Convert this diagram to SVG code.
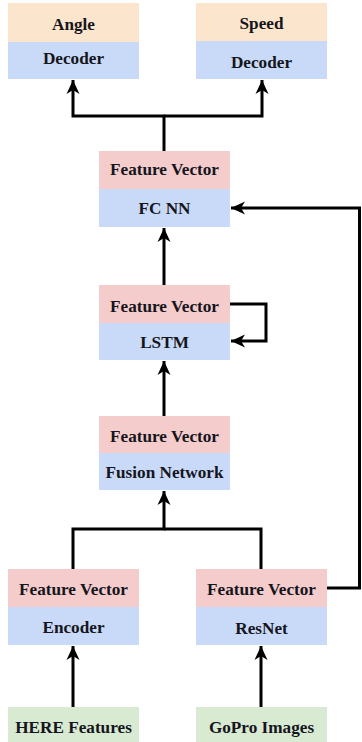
<svg xmlns="http://www.w3.org/2000/svg" width="362" height="742" viewBox="0 0 362 742">
<style>
.t{font-family:'Liberation Serif','DejaVu Serif',serif;font-weight:bold;font-size:17.2px;fill:#15151c;text-anchor:middle}
.pk{fill:#f4cccc}.bl{fill:#c9daf8}.pe{fill:#fce5cd}.gr{fill:#d9ead3}
.c{fill:none;stroke:#000;stroke-width:3;stroke-linejoin:miter}
</style>
<defs>
<marker id="ah" markerUnits="userSpaceOnUse" markerWidth="20" markerHeight="16" refX="14" refY="7" orient="auto" viewBox="0 0 20 16">
<path d="M14,7 L0,0.5 L4,7 L0,13.5 Z" fill="#000"/>
</marker>
</defs>
<rect width="362" height="742" fill="#fff"/>
<g id="angle">
<rect class="pe" x="8" y="3" width="131" height="39"/>
<rect class="bl" x="8" y="42" width="131" height="37"/>
<text class="t" x="73.5" y="30">Angle</text>
<text class="t" x="73.5" y="64">Decoder</text>
</g>
<g id="speed">
<rect class="pe" x="196" y="3" width="131" height="38"/>
<rect class="bl" x="196" y="41" width="131" height="38"/>
<text class="t" x="261.5" y="29">Speed</text>
<text class="t" x="261.5" y="68">Decoder</text>
</g>
<g id="fcnn">
<rect class="pk" x="99" y="151" width="131" height="38"/>
<rect class="bl" x="99" y="189" width="131" height="38"/>
<text class="t" x="164.5" y="175">Feature Vector</text>
<text class="t" x="164.5" y="214">FC NN</text>
</g>
<g id="lstm">
<rect class="pk" x="99" y="285" width="131" height="38"/>
<rect class="bl" x="99" y="323" width="131" height="37"/>
<text class="t" x="164.5" y="311.5">Feature Vector</text>
<text class="t" x="164.5" y="348">LSTM</text>
</g>
<g id="fusion">
<rect class="pk" x="99" y="416" width="131" height="37"/>
<rect class="bl" x="99" y="453" width="131" height="37"/>
<text class="t" x="164.5" y="442">Feature Vector</text>
<text class="t" x="164.5" y="477.5">Fusion Network</text>
</g>
<g id="encoder">
<rect class="pk" x="8" y="569" width="131" height="38"/>
<rect class="bl" x="8" y="607" width="131" height="38"/>
<text class="t" x="73.5" y="595">Feature Vector</text>
<text class="t" x="73.5" y="632.5">Encoder</text>
</g>
<g id="resnet">
<rect class="pk" x="196" y="569" width="131" height="38"/>
<rect class="bl" x="196" y="607" width="131" height="38"/>
<text class="t" x="261.5" y="595">Feature Vector</text>
<text class="t" x="261.5" y="634">ResNet</text>
</g>
<g id="here">
<rect class="gr" x="8" y="707" width="131" height="35"/>
<text class="t" x="73.5" y="732.5">HERE Features</text>
</g>
<g id="gopro">
<rect class="gr" x="196" y="707" width="131" height="35"/>
<text class="t" x="261.5" y="732.5">GoPro Images</text>
</g>
<g id="connectors">
<path class="c" d="M164,151 V116 H73 V80" marker-end="url(#ah)"/>
<path class="c" d="M164,116 H262 V80" marker-end="url(#ah)"/>
<path class="c" d="M164,285 V228" marker-end="url(#ah)"/>
<path class="c" d="M230,304 H266 V341 H231" marker-end="url(#ah)"/>
<path class="c" d="M164,416 V361" marker-end="url(#ah)"/>
<path class="c" d="M73,569 V529 H164 V491" marker-end="url(#ah)"/>
<path class="c" d="M261,569 V529 H164"/>
<path class="c" d="M327,588 H359.5 V208 H231" marker-end="url(#ah)"/>
<path class="c" d="M73,707 V646" marker-end="url(#ah)"/>
<path class="c" d="M261,707 V646" marker-end="url(#ah)"/>
</g>
</svg>
